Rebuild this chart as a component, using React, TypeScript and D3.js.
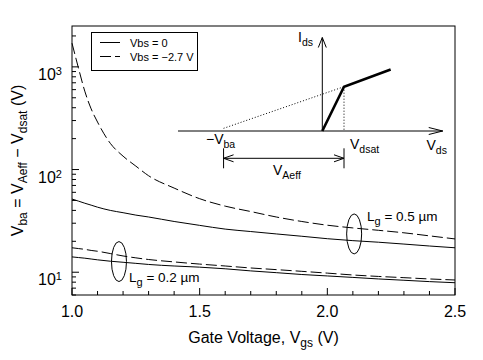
import React from "react";
import * as d3 from "d3";

// ---- data ----
const VGS = [1.0, 1.025, 1.05, 1.075, 1.1, 1.15, 1.2, 1.25, 1.3, 1.4, 1.5, 1.6, 1.7, 1.8, 1.9, 2.0, 2.1, 2.2, 2.3, 2.4, 2.5];
const VBA_LG05_VBS0 = [51.6, 49.3, 47, 45, 43, 40, 38, 36, 34.5, 31.2, 28.6, 26.3, 24.9, 23.6, 22.4, 21.2, 20.3, 19.6, 18.8, 18, 17.3];
const VBA_LG05_VBSM27 = [1700, 980, 580, 390, 290, 180, 135, 108, 87, 66, 52, 44, 39, 34.5, 31.2, 28.7, 27, 25.6, 24.2, 22.6, 21.1];
const VBA_LG02_VBS0 = [14.1, 13.9, 13.7, 13.45, 13.2, 12.8, 12.5, 12.2, 11.9, 11.5, 11.2, 10.8, 10.3, 9.9, 9.5, 9.2, 8.9, 8.6, 8.35, 8.1, 7.9];
const VBA_LG02_VBSM27 = [17.3, 17.0, 16.7, 16.3, 16.0, 15.2, 14.4, 13.8, 13.3, 12.6, 12.0, 11.5, 11.0, 10.6, 10.2, 9.8, 9.4, 9.1, 8.85, 8.6, 8.4];

const X_TICKS = [1.0, 1.5, 2.0, 2.5];
const X_TICK_LABELS = ["1.0", "1.5", "2.0", "2.5"];
const Y_DECADES = [1, 2, 3];
const LEGEND_LABELS = ["Vbs = 0", "Vbs = \u22122.7 V"];

// inset schematic (abstract units: Vdsat = 1, Ids(Vdsat) = 1)
const INSET_VDSAT = 1;
const INSET_VBA = 4.55;
const INSET_VDS_END = 3.15;

const W = 483;
const H = 360;
const M = { left: 72, right: 455, top: 26, bottom: 295 };
const FONT = "Arial, 'Liberation Sans', Helvetica, sans-serif";

export default function App() {
  const x = d3.scaleLinear().domain([1.0, 2.5]).range([M.left, M.right]);
  const y = d3.scaleLog().domain([6, 2500]).range([M.bottom, M.top]);

  const line = d3
    .line<number>()
    .x((_, i) => x(VGS[i]))
    .y((d) => y(d))
    .curve(d3.curveMonotoneX);

  const series = [
    { v: VBA_LG05_VBS0, dash: undefined },
    { v: VBA_LG05_VBSM27, dash: "11,4" },
    { v: VBA_LG02_VBS0, dash: undefined },
    { v: VBA_LG02_VBSM27, dash: "11,4" },
  ];

  const xMinor = d3.range(10, 26).map((d) => d / 10);
  const yMinor: number[] = [];
  for (let e = 0; e <= 3; e++) {
    for (let k = 1; k <= 9; k++) {
      const v = k * Math.pow(10, e);
      if (v >= 6 && v <= 2500) yMinor.push(v);
    }
  }

  // inset scales
  const ix = d3.scaleLinear().domain([0, INSET_VDSAT]).range([322.3, 344]);
  const iy = d3.scaleLinear().domain([0, 1]).range([131, 86.7]);
  const ixL = ix(-6.65);
  const ixR = ix(5.55);
  const iyTop = iy(2.11);
  const i0x = ix(0);
  const i0y = iy(0);
  const satX = ix(INSET_VDSAT);
  const satY = iy(1);
  const endIds = 1 + (INSET_VDS_END - INSET_VDSAT) / (INSET_VBA + INSET_VDSAT);
  const vbaX = ix(-INSET_VBA);
  const dimY = 158.3;

  return (
    <svg
      width={W}
      height={H}
      style={{ position: "absolute", left: 0, top: 0, background: "#fff" }}
      fontFamily={FONT}
    >
      <rect x={0} y={0} width={W} height={H} fill="#fff" />
      {/* curves */}
      <g fill="none" stroke="#000" strokeWidth={1}>
        {series.map((s, i) => (
          <path key={i} d={line(s.v) || ""} strokeDasharray={s.dash} />
        ))}
      </g>

      {/* frame */}
      <rect
        x={M.left}
        y={M.top}
        width={M.right - M.left}
        height={M.bottom - M.top}
        fill="none"
        stroke="#000"
        strokeWidth={1}
      />

      {/* x ticks */}
      <g stroke="#000" strokeWidth={1}>
        {xMinor.map((t, i) => {
          const major = Math.abs(t * 2 - Math.round(t * 2)) < 1e-6;
          return (
            <line key={i} x1={x(t)} x2={x(t)} y1={M.bottom} y2={M.bottom - (major ? 7 : 4)} />
          );
        })}
        {yMinor.map((t, i) => {
          const major = Math.abs(Math.log10(t) - Math.round(Math.log10(t))) < 1e-6;
          return (
            <line key={i} x1={M.left} x2={M.left + (major ? 7 : 4)} y1={y(t)} y2={y(t)} />
          );
        })}
      </g>

      {/* x tick labels */}
      <g fontSize={16} textAnchor="middle" fill="#000">
        {X_TICKS.map((t, i) => (
          <text key={i} x={x(t)} y={317}>
            {X_TICK_LABELS[i]}
          </text>
        ))}
      </g>
      {/* y tick labels */}
      <g fill="#000">
        {Y_DECADES.map((e) => (
          <text key={e} x={38} y={y(Math.pow(10, e)) + 13} fontSize={16}>
            10
            <tspan fontSize={11} dy={-5}>
              {e}
            </tspan>
          </text>
        ))}
      </g>

      {/* axis titles */}
      <text x={(M.left + M.right) / 2} y={343} fontSize={16} textAnchor="middle">
        Gate Voltage, V
        <tspan fontSize={12} dy={4}>gs</tspan>
        <tspan dy={-4}> (V)</tspan>
      </text>
      <text
        transform={`translate(23,${(M.top + M.bottom) / 2}) rotate(-90)`}
        fontSize={16}
        textAnchor="middle"
      >
        V<tspan fontSize={12} dy={4}>ba</tspan>
        <tspan dy={-4}> = V</tspan>
        <tspan fontSize={12} dy={4}>Aeff</tspan>
        <tspan dy={-4}> {"\u2212"} V</tspan>
        <tspan fontSize={12} dy={4}>dsat</tspan>
        <tspan dy={-4}> (V)</tspan>
      </text>

      {/* legend */}
      <rect x={91.5} y={32.5} width={106} height={38} fill="#fff" stroke="#000" strokeWidth={1} />
      <line x1={100} x2={120} y1={42.5} y2={42.5} stroke="#000" />
      <line x1={100} x2={120} y1={56.5} y2={56.5} stroke="#000" strokeDasharray="11,4" />
      <text x={130} y={46.5} fontSize={11}>{LEGEND_LABELS[0]}</text>
      <text x={130} y={60.5} fontSize={11}>{LEGEND_LABELS[1]}</text>

      {/* ellipses and labels */}
      <g fill="none" stroke="#000" strokeWidth={1}>
        <ellipse cx={x(2.105)} cy={y(23.6)} rx={7.5} ry={20} />
        <ellipse cx={x(1.184)} cy={y(12.7)} rx={7.5} ry={20} />
      </g>
      <text x={367} y={220.5} fontSize={13.5}>
        L<tspan fontSize={11} dy={4}>g</tspan>
        <tspan dy={-4}> = 0.5 {"\u00b5"}m</tspan>
      </text>
      <text x={129} y={282} fontSize={13.5}>
        L<tspan fontSize={11} dy={4}>g</tspan>
        <tspan dy={-4}> = 0.2 {"\u00b5"}m</tspan>
      </text>

      {/* inset schematic */}
      <g stroke="#000" fill="none" strokeWidth={1}>
        <line x1={ixL} x2={ixR} y1={i0y} y2={i0y} />
        <polyline points={`${ixR - 14},${i0y - 3.5} ${ixR},${i0y} ${ixR - 14},${i0y + 3.5}`} />
        <line x1={i0x} x2={i0x} y1={i0y} y2={iyTop} />
        <polyline points={`${i0x - 4},${iyTop + 10} ${i0x},${iyTop} ${i0x + 4},${iyTop + 10}`} />
        <polyline
          points={`${i0x},${i0y} ${satX},${satY} ${ix(INSET_VDS_END)},${iy(endIds)}`}
          strokeWidth={2.6}
          strokeLinejoin="miter"
        />
        <line x1={vbaX} y1={iy(0.06)} x2={satX} y2={satY} strokeDasharray="1,2" />
        <line x1={satX} y1={satY} x2={satX} y2={i0y} strokeDasharray="1,2" />
        {/* dimension */}
        <line x1={vbaX} x2={satX} y1={dimY} y2={dimY} />
        <line x1={vbaX} x2={vbaX} y1={dimY - 10} y2={dimY + 10} />
        <line x1={satX} x2={satX} y1={dimY - 10} y2={dimY + 10} />
        <polyline points={`${vbaX + 10},${dimY - 3.5} ${vbaX},${dimY} ${vbaX + 10},${dimY + 3.5}`} />
        <polyline points={`${satX - 10},${dimY - 3.5} ${satX},${dimY} ${satX - 10},${dimY + 3.5}`} />
      </g>
      <g fontSize={14} fill="#000">
        <text x={298} y={42}>
          I<tspan fontSize={10.5} dy={4}>ds</tspan>
        </text>
        <text x={206} y={144}>
          {"\u2212"}V<tspan fontSize={10.5} dy={4}>ba</tspan>
        </text>
        <text x={350} y={149}>
          V<tspan fontSize={10.5} dy={4}>dsat</tspan>
        </text>
        <text x={426.5} y={150}>
          V<tspan fontSize={10.5} dy={4}>ds</tspan>
        </text>
        <text x={273} y={175}>
          V<tspan fontSize={10.5} dy={4}>Aeff</tspan>
        </text>
      </g>
    </svg>
  );
}
